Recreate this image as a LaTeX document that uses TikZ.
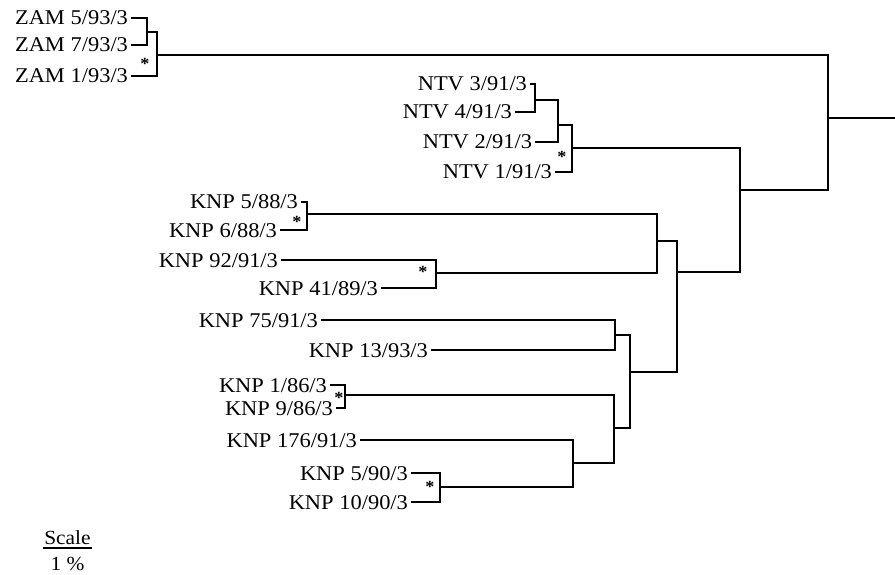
\documentclass[tikz,border=0pt]{standalone}
\usepackage{fontspec}
\setmainfont{Liberation Serif}[FakeStretch=1.07]
\usetikzlibrary{positioning}
\tikzset{
  % --- isolates (tree leaves) -----------------------------------------------
  leaf/.style={anchor=east,inner sep=0pt,outer xsep=3pt,text height=14pt,
               text depth=0pt,font=\fontsize{21}{24}\selectfont},
  % --- tree lines ------------------------------------------------------------
  branch/.style={line width=2.7pt,line join=miter},
  % --- bootstrap marks -------------------------------------------------------
  star/.style={inner sep=0pt,font=\fontsize{17}{17}\selectfont\bfseries},
  scalelab/.style={inner sep=0pt,font=\fontsize{20}{22}\selectfont},
}

\begin{document}
\begin{tikzpicture}[x=1pt,y=-1pt]
  \useasboundingbox (0,0) rectangle (895,575);

  % ZAM and NTV isolates
  \node[leaf] (zam5)  at (131,18)  {ZAM 5/93/3};
  \node[leaf] (zam7)  at (131,45)  {ZAM 7/93/3};
  \node[leaf] (zam1)  at (131,76)  {ZAM 1/93/3};
  \node[leaf] (ntv3)  at (530,84)  {NTV 3/91/3};
  \node[leaf] (ntv4)  at (515,112) {NTV 4/91/3};
  \node[leaf] (ntv2)  at (535,142) {NTV 2/91/3};
  \node[leaf] (ntv1)  at (555,172) {NTV 1/91/3};

  % KNP isolates
  \node[leaf] (k588)  at (301,202) {KNP 5/88/3};
  \node[leaf] (k688)  at (280,230) {KNP 6/88/3};
  \node[leaf] (k9291) at (281,260) {KNP 92/91/3};
  \node[leaf] (k4189) at (381,288) {KNP 41/89/3};
  \node[leaf] (k7591) at (321,320) {KNP 75/91/3};
  \node[leaf] (k1393) at (431,350) {KNP 13/93/3};
  \node[leaf] (k186)  at (330,385) {KNP 1/86/3};
  \node[leaf] (k986)  at (336,408) {KNP 9/86/3};
  \node[leaf] (k17691) at (360,440) {KNP 176/91/3};
  \node[leaf] (k590)  at (411,473) {KNP 5/90/3};
  \node[leaf] (k1090) at (411,502) {KNP 10/90/3};

  % junctions
  \coordinate (jz57)   at (147,32);
  \coordinate (jzam)   at (157,55);
  \coordinate (jn34)   at (535,100);
  \coordinate (jn342)  at (558,125);
  \coordinate (jntv)   at (572,148);
  \coordinate (jk88)   at (307,214);
  \coordinate (jk89)   at (436,273);
  \coordinate (jk8889) at (657,241);
  \coordinate (jk75)   at (615,335);
  \coordinate (jk86)   at (345,395);
  \coordinate (jk90)   at (440,487);
  \coordinate (jk176)  at (573,463);
  \coordinate (jk86b)  at (614,428);
  \coordinate (jk75b)  at (630,372);
  \coordinate (jknp)   at (677,272);
  \coordinate (jnk)    at (740,190);
  \coordinate (jroot)  at (828,118);
  \coordinate (tip)    at (895,118);

  % branches
  \draw[branch] (zam5.east) -| (jz57) |- (zam7.east);
  \draw[branch] (jz57) -| (jzam) |- (zam1.east);
  \draw[branch] (ntv3.east) -| (jn34) |- (ntv4.east);
  \draw[branch] (jn34) -| (jn342) |- (ntv2.east);
  \draw[branch] (jn342) -| (jntv) |- (ntv1.east);
  \draw[branch] (k588.east) -| (jk88) |- (k688.east);
  \draw[branch] (k9291.east) -| (jk89) |- (k4189.east);
  \draw[branch] (jk88) -| (jk8889) |- (jk89);
  \draw[branch] (k7591.east) -| (jk75) |- (k1393.east);
  \draw[branch] (k186.east) -| (jk86) |- (k986.east);
  \draw[branch] (k590.east) -| (jk90) |- (k1090.east);
  \draw[branch] (k17691.east) -| (jk176) |- (jk90);
  \draw[branch] (jk86) -| (jk86b) |- (jk176);
  \draw[branch] (jk75) -| (jk75b) |- (jk86b);
  \draw[branch] (jk8889) -| (jknp) |- (jk75b);
  \draw[branch] (jntv) -| (jnk) |- (jknp);
  \draw[branch] (jzam) -| (jroot) |- (jnk);
  \draw[branch] (jroot) -- (tip);

  % asterisks
  \node[star] (s1) at (145,64)  {*};
  \node[star] (s2) at (562,157) {*};
  \node[star] (s3) at (297,222) {*};
  \node[star] (s4) at (423,272) {*};
  \node[star] (s5) at (339,398) {*};
  \node[star] (s6) at (430,487) {*};

  % scale bar
  \coordinate (sbl) at (43,548);
  \coordinate (sbr) at (92,548);
  \coordinate (sbm) at (67.5,548);
  \draw[line width=2pt] (sbl) -- (sbr);
  \node[scalelab,above=3pt of sbm] (sclab) {Scale};
  \node[scalelab,below=9pt of sbm] (onepc) {1 \%};
\end{tikzpicture}
\end{document}
